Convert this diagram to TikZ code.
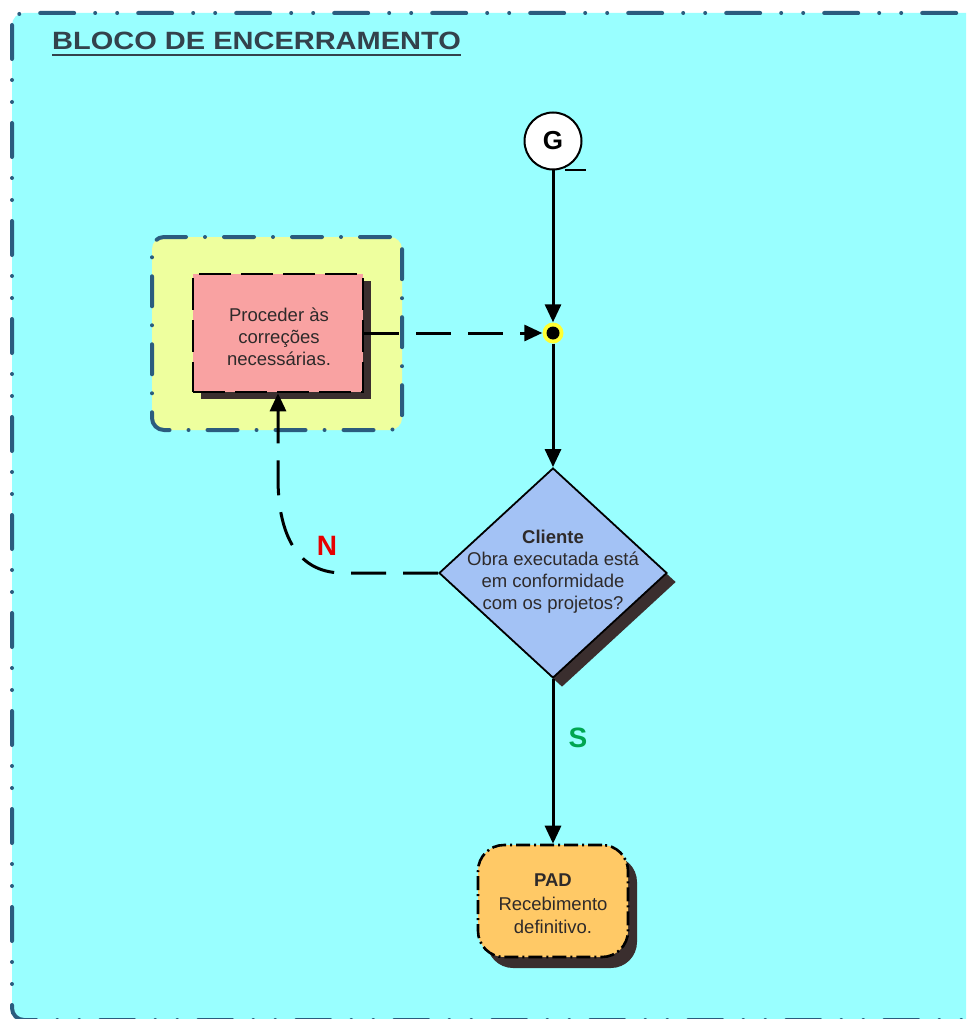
\documentclass[tikz,border=0pt]{standalone}
\usepackage{fontspec}
\setmainfont{Liberation Sans}
\usetikzlibrary{arrows.meta,shapes.geometric,shadows}

\definecolor{areafill}{HTML}{99FFFF}
\definecolor{framecol}{HTML}{2B5C7E}
\definecolor{groupfill}{HTML}{EEFF9E}
\definecolor{taskfill}{HTML}{F9A2A2}
\definecolor{decfill}{HTML}{A3C2F5}
\definecolor{endfill}{HTML}{FFC966}
\definecolor{shadowcol}{HTML}{3A2E2E}
\definecolor{titlecol}{HTML}{33424C}
\definecolor{textcol}{HTML}{2E2A2A}
\definecolor{nocol}{HTML}{E60000}
\definecolor{yescol}{HTML}{00A651}
\definecolor{ringcol}{HTML}{FFFF33}

\newcommand\diagfont{\fontsize{18.5pt}{22pt}\selectfont}

\tikzset{
  areaframe/.style={draw=framecol, line width=4pt, fill=areafill, rounded corners=12pt,
    line cap=round, dash pattern=on 34pt off 21pt on 0pt off 22pt on 0pt off 21pt},
  groupbox/.style={draw=framecol, line width=4pt, fill=groupfill, rounded corners=12pt,
    line cap=round, dash pattern=on 30pt off 19pt on 0pt off 19pt},
  taskbox/.style={rectangle, draw=black, line width=2.6pt, fill=taskfill,
    dash pattern=on 32pt off 10pt, text=textcol, font=\diagfont, align=center,
    general shadow={fill=shadowcol, shadow xshift=8pt, shadow yshift=-7pt}},
  decision/.style={diamond, draw=black, line width=1.8pt, fill=decfill, inner sep=0pt,
    general shadow={fill=shadowcol, shadow xshift=9pt, shadow yshift=-9pt}},
  endbox/.style={rectangle, rounded corners=26pt, draw=black, line width=2.6pt, fill=endfill,
    dash pattern=on 14pt off 4pt on 2pt off 4pt, text=textcol, font=\diagfont, align=center,
    general shadow={fill=shadowcol, shadow xshift=9pt, shadow yshift=-11pt}},
  offpage/.style={circle, draw=black, line width=2pt, fill=white, minimum size=57pt,
    inner sep=0pt, text=black, font=\fontsize{26pt}{28pt}\selectfont\bfseries},
  junction/.style={circle, fill=ringcol, minimum size=21pt, inner sep=0pt},
  flow/.style={line width=3pt, draw=black, -{Triangle[length=18pt,width=16pt]}},
  dflow/.style={flow, dash pattern=on 35pt off 17pt},
  branch/.style={font=\fontsize{28pt}{30pt}\selectfont\bfseries}
}

\begin{document}
\begin{tikzpicture}[x=1pt,y=-1pt]
\useasboundingbox (0,0) rectangle (966,1019);

% process area frame
\begin{scope}
  \clip (0,0) rectangle (966,1019);
  \path[areaframe] (12,13) rectangle (1010,1020);
\end{scope}

% title
\node[anchor=base west, inner sep=0pt, text=titlecol,
      font=\fontsize{25pt}{28pt}\selectfont\bfseries] (title) at (52,50)
  {\scalebox{1.16}[1]{BLOCO DE ENCERRAMENTO}};
\draw[titlecol, line width=2.2pt] ([yshift=-5pt]title.base west) -- ([yshift=-5pt]title.base east);

% correction group
\node[groupbox, minimum width=250pt, minimum height=193pt, inner sep=0pt] (grp) at (277,333.5) {};
\node[taskbox, minimum width=170pt, minimum height=118pt, inner sep=2pt] (fix) at (278,333) {};
\node[text=textcol, font=\diagfont, align=center, inner sep=0pt] (fixtext) at (279,337)
  {Proceder às\\correções\\necessárias.};

% off-page connector G
\node[offpage] (G) at (553,141) {G};
\draw[black, line width=2pt] ([xshift=12pt]G.south) -- ([xshift=33pt]G.south);

% junction
\node[junction] (J) at (553,333) {};
\fill[black] (J.center) circle (6.5pt);

% decision
\node[decision, minimum width=228pt, minimum height=210pt] (dec) at (553,573) {};
\node[text=textcol, font=\diagfont, align=center, inner sep=0pt] (dectext) at (553,572)
  {\textbf{Cliente}\\Obra executada está\\em conformidade\\com os projetos?};

% final step
\node[endbox, minimum width=150pt, minimum height=112pt] (pad) at (553,901) {};
\node[text=textcol, font=\diagfont, align=center, inner sep=0pt] (padtext) at (553,904)
  {\textbf{PAD}\\[2pt]Recebimento\\[1pt]definitivo.};

% connectors
\draw[flow] (G.south) -- (J.north);
\draw[dflow] (fix.east) -- (J.west);
\draw[flow] (J.south) -- (dec.north);
\draw[flow] (dec.south) -- (pad.north);
\draw[dflow] (dec.west) -- ++(-95,0) .. controls +(-50,0) and +(0,50) .. (278,478) -- (fix.south);

% branch labels
\node[branch, text=nocol] (nlab) at (327,546) {N};
\node[branch, text=yescol] (slab) at (578,738) {S};
\end{tikzpicture}
\end{document}
